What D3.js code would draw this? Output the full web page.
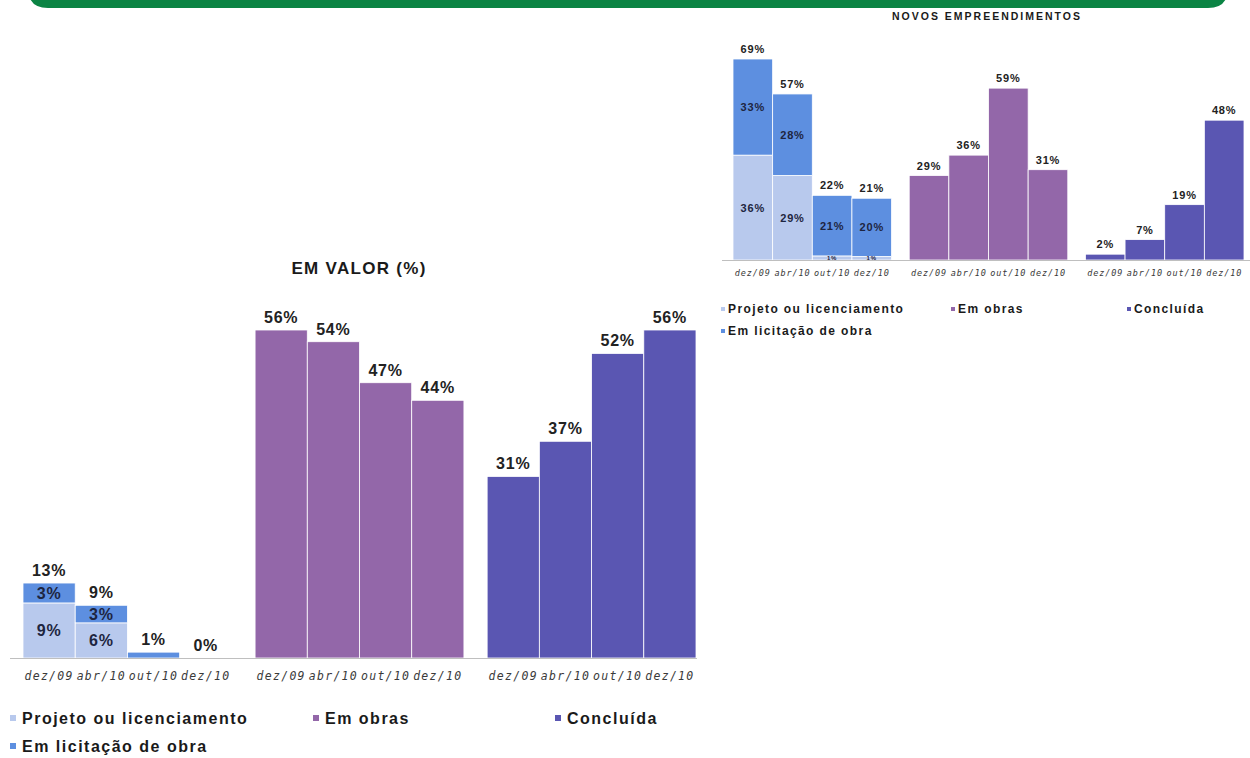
<!DOCTYPE html>
<html><head><meta charset="utf-8">
<script src="https://cdn.jsdelivr.net/npm/d3@7/dist/d3.min.js"></script>
<style>
html,body{margin:0;padding:0;background:#fff;}
svg{display:block;}
text{font-family:"Liberation Sans",Arial,sans-serif;}
</style></head>
<body>
<svg id="c" width="1250" height="758"></svg>
<script>
// ---- data ----
const periods = ["dez/09", "abr/10", "out/10", "dez/10"];
const groupKeys = ["etapa", "obras", "concluida"];
const legendLabels = ["Projeto ou licenciamento", "Em obras", "Concluída", "Em licitação de obra"];

// EM VALOR (%)
const valorProjeto   = [9.4, 6.0, 0.0, 0.0];
const valorLicitacao = [3.4, 3.0, 1.0, 0.0];
const valorObras     = [56, 54, 47, 44];
const valorConcluida = [31, 37, 52, 56];

// NOVOS EMPREENDIMENTOS
const novosProjeto   = [36, 29, 1.4, 1.2];
const novosLicitacao = [33, 28, 20.8, 20.0];
const novosObras     = [29, 36, 59, 31];
const novosConcluida = [2, 7, 19, 48];

const colors = {projeto:"#b8c9ed", licitacao:"#5d8fe0", obras:"#9367a9", concluida:"#5a56b2"};

const svg = d3.select("#c");

// banner
svg.append("path")
  .attr("d", "M28,0 L1228,0 L1228,-12 Q1228,8 1208,8 L48,8 Q28,8 28,-12 Z")
  .attr("fill", "#0b8444");

function drawChart(cfg) {
  const g = svg.append("g");
  const x0 = d3.scaleBand().domain(groupKeys).range(cfg.xRange).paddingInner(0.1).paddingOuter(0);
  const x1 = d3.scaleBand().domain(periods).range([0, x0.bandwidth()]).padding(0);
  const y = d3.scaleLinear().domain(cfg.yDomain).range([cfg.base, cfg.yTop]);
  const fmt = v => Math.round(v) + "%";

  // title
  g.append("text").attr("x", cfg.titleX).attr("y", cfg.titleY)
    .attr("text-anchor", "middle").attr("font-weight", "bold")
    .attr("font-size", cfg.titleSize).attr("letter-spacing", cfg.titleLS)
    .attr("fill", "#1a1a1a").text(cfg.title);

  // stacked group
  const stackRows = periods.map((p, i) => ({period: p, projeto: cfg.projeto[i], licitacao: cfg.licitacao[i]}));
  const series = d3.stack().keys(["projeto", "licitacao"])(stackRows);
  const gx = x0("etapa");
  series.forEach(s => {
    g.selectAll(null).data(s).join("rect")
      .attr("x", d => gx + x1(d.data.period))
      .attr("width", x1.bandwidth())
      .attr("y", d => y(d[1]))
      .attr("height", d => Math.max(0, y(d[0]) - y(d[1])))
      .attr("fill", colors[s.key])
      .attr("stroke", "#fff").attr("stroke-width", 0.8);
  });
  // inner labels
  series.forEach(s => {
    g.selectAll(null).data(s.filter(d => d.data.projeto > 0 && d.data.licitacao > 0)).join("text")
      .attr("x", d => gx + x1(d.data.period) + x1.bandwidth() / 2)
      .attr("y", d => (y(d[0]) + y(d[1])) / 2)
      .attr("dy", "0.36em").attr("text-anchor", "middle")
      .attr("font-weight", "bold")
      .attr("font-size", d => (cfg.smallInner && (d[1] - d[0]) < 3) ? cfg.tinySize : cfg.labelSize)
      .attr("letter-spacing", cfg.labelLS)
      .attr("fill", "#1d2540")
      .text(d => fmt(d[1] - d[0]));
  });
  // total labels
  g.selectAll(null).data(stackRows).join("text")
    .attr("x", d => gx + x1(d.period) + x1.bandwidth() / 2)
    .attr("y", d => y(d.projeto + d.licitacao) - cfg.labelGap)
    .attr("text-anchor", "middle").attr("font-weight", "bold")
    .attr("font-size", cfg.labelSize).attr("letter-spacing", cfg.labelLS)
    .attr("fill", "#222").text(d => fmt(d.projeto + d.licitacao));

  // simple groups
  [["obras", cfg.obras], ["concluida", cfg.concluida]].forEach(([key, vals]) => {
    const gx2 = x0(key);
    const rows = periods.map((p, i) => ({period: p, v: vals[i]}));
    g.selectAll(null).data(rows).join("rect")
      .attr("x", d => gx2 + x1(d.period))
      .attr("width", x1.bandwidth())
      .attr("y", d => y(d.v))
      .attr("height", d => cfg.base - y(d.v))
      .attr("fill", colors[key])
      .attr("stroke", "#fff").attr("stroke-width", 0.8);
    g.selectAll(null).data(rows).join("text")
      .attr("x", d => gx2 + x1(d.period) + x1.bandwidth() / 2)
      .attr("y", d => y(d.v) - cfg.labelGap)
      .attr("text-anchor", "middle").attr("font-weight", "bold")
      .attr("font-size", cfg.labelSize).attr("letter-spacing", cfg.labelLS)
      .attr("fill", "#222").text(d => fmt(d.v));
  });

  // baseline
  g.append("line").attr("x1", cfg.lineX[0]).attr("x2", cfg.lineX[1])
    .attr("y1", cfg.base + 0.5).attr("y2", cfg.base + 0.5)
    .attr("stroke", "#bfbfbf").attr("stroke-width", 1);

  // x axis labels
  groupKeys.forEach(k => {
    const ax = d3.axisBottom(x1).tickSize(0).tickPadding(0);
    const a = g.append("g").attr("transform", `translate(${x0(k)},${cfg.tickY})`).call(ax);
    a.select(".domain").remove();
    a.attr("font-family", null).attr("font-size", null);
    a.selectAll("text")
      .style("font-family", "'DejaVu Sans Mono', monospace")
      .style("font-size", cfg.tickSize + "px").style("letter-spacing", cfg.tickLS + "px")
      .style("font-style", "italic")
      .attr("fill", "#3a3a3a").attr("dy", 0);
  });

  // legend
  const legendColors = [colors.projeto, colors.obras, colors.concluida, colors.licitacao];
  cfg.legendPos.forEach((pos, i) => {
    g.append("rect").attr("x", pos[0]).attr("y", pos[1] - cfg.markSize / 2)
      .attr("width", cfg.markSize).attr("height", cfg.markSize).attr("fill", legendColors[i]);
    g.append("text").attr("x", pos[0] + cfg.markSize + cfg.legendGap).attr("y", pos[1])
      .attr("dy", "0.36em").attr("font-weight", "bold")
      .attr("font-size", cfg.legendSize).attr("letter-spacing", cfg.legendLS)
      .attr("fill", "#1a1a1a").text(legendLabels[i]);
  });
}

drawChart({
  title: "EM VALOR (%)", titleX: 359, titleY: 274, titleSize: 17, titleLS: 1.3,
  projeto: valorProjeto, licitacao: valorLicitacao, obras: valorObras, concluida: valorConcluida,
  xRange: [23, 696], yDomain: [0, 56], base: 658, yTop: 330,
  labelSize: 16, labelLS: 0.8, labelGap: 7, smallInner: false, tinySize: 16,
  lineX: [10, 697], tickY: 680, tickSize: 11.5, tickLS: 1.3,
  legendPos: [[10, 718], [313, 718], [555, 718], [10, 746]],
  markSize: 6, legendGap: 6, legendSize: 16, legendLS: 1.5
});

drawChart({
  title: "NOVOS EMPREENDIMENTOS", titleX: 987, titleY: 20, titleSize: 10.5, titleLS: 2,
  projeto: novosProjeto, licitacao: novosLicitacao, obras: novosObras, concluida: novosConcluida,
  xRange: [733, 1244], yDomain: [0, 69], base: 260, yTop: 59,
  labelSize: 11, labelLS: 0.8, labelGap: 6, smallInner: true, tinySize: 6,
  lineX: [722, 1250], tickY: 276, tickSize: 8.5, tickLS: 0.9,
  legendPos: [[721, 309], [951, 309], [1127, 309], [721, 331]],
  markSize: 4, legendGap: 3, legendSize: 12, legendLS: 1.4
});
</script>
</body></html>
